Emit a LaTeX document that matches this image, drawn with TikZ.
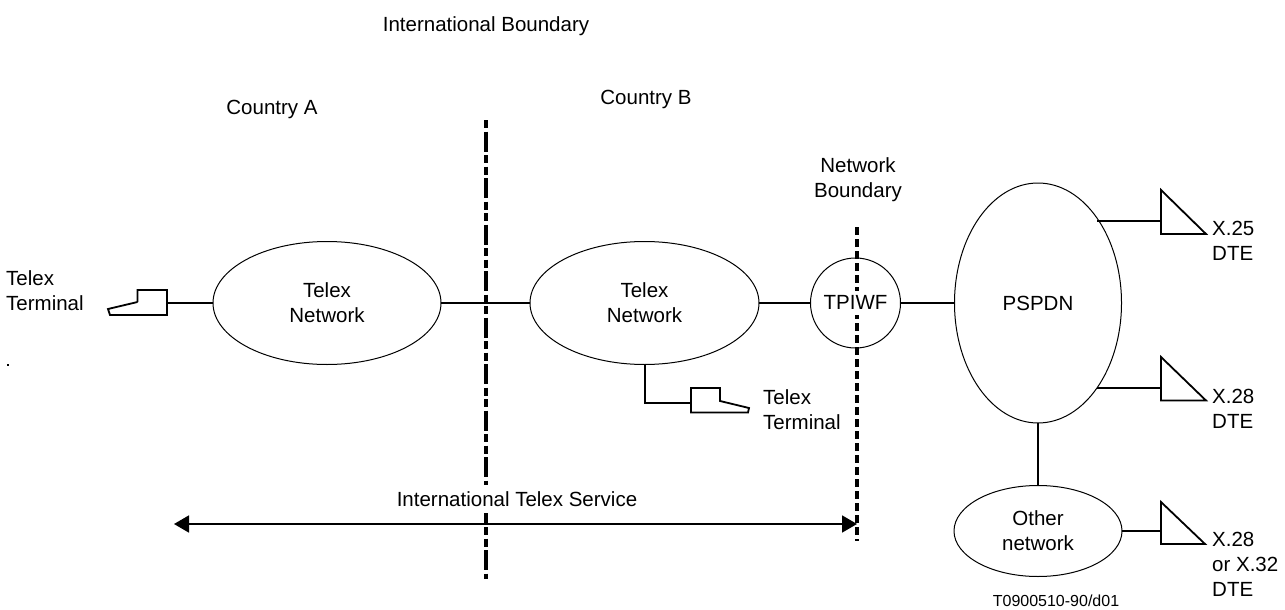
\documentclass[tikz,border=0pt]{standalone}
\usepackage{fontspec}
\setmainfont{Liberation Sans}
\usetikzlibrary{shapes.geometric,arrows.meta}
\tikzset{
 txt/.style={font=\fontsize{20.5}{25}\selectfont},
 net/.style={draw,ellipse,line width=1pt,inner sep=0pt,outer sep=0pt,align=center,txt},
 lab/.style={inner sep=0pt,align=left,txt},
 conn/.style={line width=1.8pt},
 term/.style={line width=1.8pt,line join=miter},
 bound/.style={line width=4pt,dash pattern=on 8pt off 4pt},
 bounddd/.style={line width=4pt,dash pattern=on 20pt off 3.5pt on 8pt off 3.5pt on 8pt off 3.5pt,dash phase=35pt},
}
\begin{document}
\begin{tikzpicture}[x=1pt,y=-1pt]
\useasboundingbox (0,0) rectangle (1285,610);
\node[lab] (ib) at (486,26) {International Boundary};
\node[lab] (ca) at (272,109) {Country A};
\node[lab] (cb) at (646,99) {Country B};
\node[lab,align=center] (nb) at (858,179.5) {Network\\Boundary};
\node[lab] (t1) at (6,291) [anchor=west] {Telex\\Terminal};
\node[lab] (t2) at (763,410) [anchor=west] {Telex\\Terminal};
\node[lab] (x25) at (1212,241) [anchor=west] {X.25\\DTE};
\node[lab] (x28) at (1212,409) [anchor=west] {X.28\\DTE};
\node[lab] (x32) at (1212,564) [anchor=west] {X.28\\or X.32\\DTE};
\node[inner sep=0pt,font=\fontsize{16}{18}\selectfont] (ref) at (1056,601) {T0900510-90/d01};
\fill (7,364) rectangle (9,366);
% boundaries
\coordinate (ibt) at (486,120); \coordinate (ibb) at (486,579);
\coordinate (nbt) at (857,227); \coordinate (nbb) at (857,541);
\draw[bound] (nbt) -- (nbb);
\draw[bounddd] (ibt) -- (ibb);
% nets
\node[net,minimum width=228pt,minimum height=123pt] (n1) at (327,303) {Telex\\Network};
\node[net,minimum width=229pt,minimum height=123pt] (n2) at (644.5,303) {Telex\\Network};
\node[net,circle,minimum size=90pt] (tp) at (855.5,303) {};
\node[lab,fill=white,minimum height=24pt] (tpl) at (855.5,302.5) {TPIWF};
\node[net,minimum width=167pt,minimum height=240pt] (ps) at (1038,303) {PSPDN};
\node[net,minimum width=168pt,minimum height=91pt] (on) at (1038,531) {Other\\network};
\node[lab,fill=white,minimum height=28pt] (svc) at (517,499) {International Telex Service};
% connectors
\coordinate (c1) at (167,303);
\draw[conn] (c1) -- (n1.west);
\draw[conn] (n1.east) -- (n2.west);
\draw[conn] (n2.east) -- (tp.west);
\draw[conn] (tp.east) -- (ps.west);
\draw[conn] (ps.south) -- (on.north);
\coordinate (c2) at (691,403);
\draw[conn] (645,364.5) |- (c2);
% terminals
\draw[term] (137.5,302) -- (137.5,290) -- (167,290) -- (167,315) -- (110,315) -- (108,309) -- (137.5,302);
\draw[term] (691,388) -- (720,388) -- (720,401) -- (749,408) -- (748,412.5) -- (691,412.5) -- cycle;
% triangles
\coordinate (a1) at (1161,221); \coordinate (a2) at (1161,388); \coordinate (a3) at (1161,531);
\draw[conn] (ps.55 |- a1) -- (a1);
\draw[conn] (ps.-55 |- a2) -- (a2);
\draw[conn] (on.east) -- (a3);
\draw[term] (1206,234) -- (1161,234) -- (1161,190) -- cycle;
\draw[term] (1206,400.5) -- (1161,400.5) -- (1161,357) -- cycle;
\draw[term] (1205,544) -- (1161,544) -- (1161,502) -- cycle;
% service arrow
\coordinate (al) at (174,524); \coordinate (ar) at (857,524);
\draw[line width=1.8pt,{Triangle[length=15pt,width=17pt]}-{Triangle[length=15pt,width=17pt]}] (al) -- (ar);
\end{tikzpicture}
\end{document}
